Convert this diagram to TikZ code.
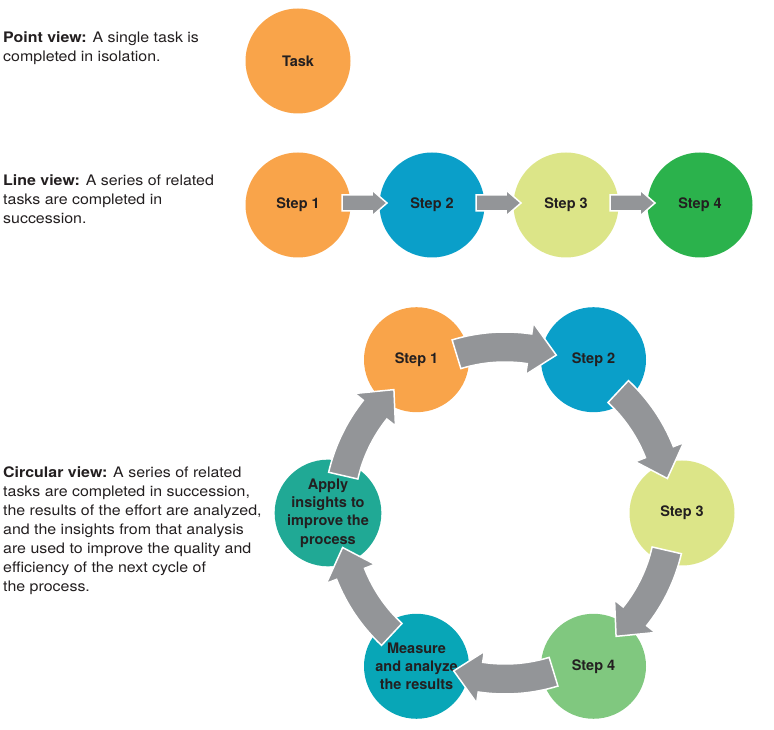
\documentclass[tikz,border=0pt]{standalone}
\usepackage{fontspec}
\setmainfont{TeX Gyre Heros}
\newfontfamily\descfont{TeX Gyre Heros}[FakeStretch=1.1]
\definecolor{steporange}{HTML}{F9A44A}
\definecolor{stepblue}{HTML}{0A9FC9}
\definecolor{steplime}{HTML}{DCE588}
\definecolor{stepgreen}{HTML}{2BB24C}
\definecolor{steplightgreen}{HTML}{80C87F}
\definecolor{measureteal}{HTML}{08A6B7}
\definecolor{applyteal}{HTML}{20A995}
\definecolor{arrowgray}{HTML}{939598}
\definecolor{inkgray}{HTML}{231F20}
\begin{document}
\begin{tikzpicture}[
    x=1pt, y=1pt,
    stepnode/.style={circle, minimum size=105pt, inner sep=0pt, align=center,
        text=inkgray, font=\fontsize{14.5}{18.3}\selectfont\bfseries},
    desc/.style={anchor=north west, inner sep=0pt, align=left,
        text=inkgray, font=\descfont\fontsize{14.5}{19}\selectfont},
    blockarrow/.style={fill=arrowgray, draw=white, line width=1.5pt}
]
    \useasboundingbox (0,0) rectangle (774,730);
    % Point view
    \node[desc] (pointtext) at (3,698.4) {\textbf{Point view:} A single task is\\completed in isolation.};
    \node[stepnode, fill=steporange] (task) at (298,669) {Task};
    % Line view
    \node[desc] (linetext) at (3,555.4) {\textbf{Line view:} A series of related\\tasks are completed in\\succession.};
    \node[stepnode, fill=steporange] (l1) at (298,525) {Step 1};
    \node[stepnode, fill=stepblue] (l2) at (432,525) {Step 2};
    \node[stepnode, fill=steplime] (l3) at (566,525) {Step 3};
    \node[stepnode, fill=stepgreen] (l4) at (700,525) {Step 4};
    \foreach \a/\b in {l1/l2, l2/l3, l3/l4}
        \filldraw[blockarrow] ([shift={(44,10)}]\a.center) -- ([shift={(-60,10)}]\b.center)
            -- ([shift={(-60,15)}]\b.center) -- ([shift={(-45,2)}]\b.center)
            -- ([shift={(-60,-11)}]\b.center) -- ([shift={(-60,-6)}]\b.center)
            -- ([shift={(44,-6)}]\a.center) -- cycle;
    % Circular view
    \node[desc] (circtext) at (3,263.4) {\textbf{Circular view:} A series of related\\tasks are completed in succession,\\the results of the effort are analyzed,\\and the insights from that analysis\\are used to improve the quality and\\efficiency of the next cycle of\\the process.};
    \coordinate (hub) at (505,217);
    \node[stepnode, fill=steporange] (c1) at ([shift={(120:177)}]hub) {Step 1};
    \node[stepnode, fill=stepblue] (c2) at ([shift={(60:177)}]hub) {Step 2};
    \node[stepnode, fill=steplime] (c3) at ([shift={(0:177)}]hub) {Step 3};
    \node[stepnode, fill=steplightgreen] (c4) at ([shift={(-60:177)}]hub) {Step 4};
    \node[stepnode, fill=measureteal] (c5) at ([shift={(-120:177)}]hub) {Measure\\and analyze\\the results};
    \node[stepnode, fill=applyteal] (c6) at ([shift={(180:177)}]hub) {Apply\\insights to\\improve the\\process};
    \foreach \a [evaluate=\a as \st using \a-13, evaluate=\a as \hb using \a-38.5,
                 evaluate=\a as \tp using \a-48] in {120,60,0,-60,-120,180}
        \filldraw[blockarrow] ([shift={(\st:181)}]hub) arc[start angle=\st, end angle=\hb, radius=181]
            -- ([shift={(\hb:192)}]hub) -- ([shift={(\tp:166)}]hub) -- ([shift={(\hb:140)}]hub)
            -- ([shift={(\hb:151)}]hub) arc[start angle=\hb, end angle=\st, radius=151] -- cycle;
\end{tikzpicture}
\end{document}
